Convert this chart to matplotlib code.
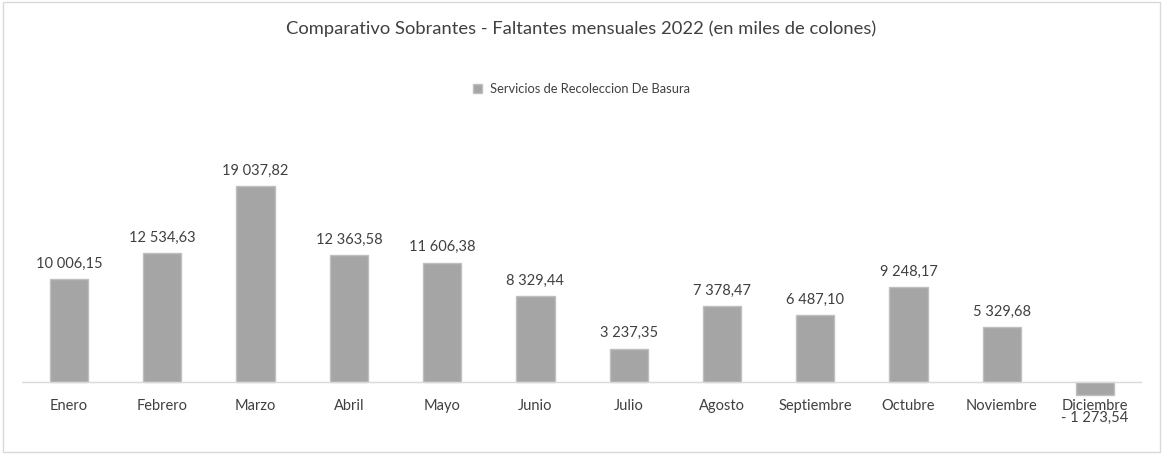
import matplotlib.pyplot as plt
import numpy as np

months = ['Enero', 'Febrero', 'Marzo', 'Abril', 'Mayo', 'Junio', 'Julio',
          'Agosto', 'Septiembre', 'Octubre', 'Noviembre', 'Diciembre']
values = [10006.15, 12534.63, 19037.82, 12363.58, 11606.38, 8329.44, 3237.35,
          7378.47, 6487.10, 9248.17, 5329.68, -1273.54]
series_name = 'Servicios de Recoleccion De Basura'
title = 'Comparativo Sobrantes - Faltantes mensuales 2022 (en miles de colones)'


def fmt(v):
    s = f'{abs(v):,.2f}'.replace(',', ' ').replace('.', ',')
    return ('- ' + s) if v < 0 else s


plt.rcParams['font.family'] = ['Lato', 'DejaVu Sans']

fig = plt.figure(figsize=(11.63, 4.54), dpi=100)
# outer chart border
fig.patches.append(plt.Rectangle((0.003, 0.005), 0.994, 0.99, transform=fig.transFigure,
                                 fill=False, edgecolor='#d9d9d9', linewidth=1))

ax = fig.add_axes([0.0193, 0.1079, 0.9623, 0.6057])
x = np.arange(len(months))
bars = ax.bar(x, values, width=0.41, color='#a5a5a5', edgecolor='#bfbfbf',
              linewidth=1, label=series_name, zorder=2)

ax.set_xlim(-0.5, len(months) - 0.5)
ax.set_ylim(-2234, 24477)

for xi, v in zip(x, values):
    if v >= 0:
        ax.annotate(fmt(v), (xi, v), xytext=(0, 6), textcoords='offset points',
                    ha='center', va='bottom', fontsize=10.5, color='#404040')
    else:
        ax.annotate(fmt(v), (xi, v), xytext=(0, -11), textcoords='offset points',
                    ha='center', va='top', fontsize=10.5, color='#404040')

ax.axhline(0, color='#d9d9d9', linewidth=1, zorder=3)
ax.set_xticks([])
ax.set_yticks([])
for sp in ax.spines.values():
    sp.set_visible(False)

# month labels just below the zero line
for xi, m in zip(x, months):
    ax.annotate(m, (xi, 0), xytext=(0, -12), textcoords='offset points',
                ha='center', va='top', fontsize=10.5, color='#404040')

fig.text(0.5, 0.937, title, ha='center', va='center', fontsize=13.2, color='#404040')
fig.legend(handles=[bars], labels=[series_name], loc='center', bbox_to_anchor=(0.5, 0.804),
           frameon=False, fontsize=9.3, handlelength=0.7, handleheight=0.7,
           handletextpad=0.6, labelcolor='#404040')

fig.savefig('out.png', dpi=100)
